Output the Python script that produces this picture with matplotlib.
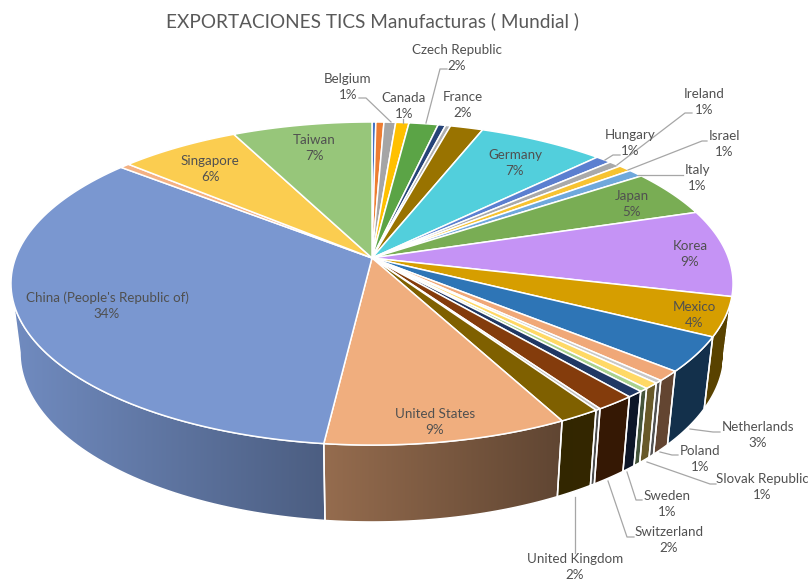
import numpy as np
from matplotlib import pyplot as plt
from matplotlib.colors import to_rgb
from matplotlib.patches import Polygon

plt.rcParams["font.family"] = ["Lato", "DejaVu Sans"]

TITLE = "EXPORTACIONES TICS Manufacturas ( Mundial )"

countries = [
    "Australia", "Austria", "Belgium", "Canada", "Czech Republic", "Denmark",
    "Finland", "France", "Germany", "Hungary", "Ireland", "Israel", "Italy",
    "Japan", "Korea", "Mexico", "Netherlands", "Poland", "Portugal",
    "Slovak Republic", "Slovenia", "Sweden", "Switzerland", "Turkey",
    "United Kingdom", "United States", "China (People's Republic of)", "India",
    "Singapore", "Taiwan",
]
shares = [
    0.20, 0.42, 0.61, 0.69, 1.52, 0.39,
    0.26, 1.71, 6.60, 0.85, 0.65, 0.70, 0.80,
    4.70, 8.70, 3.90, 3.49, 1.00, 0.30,
    0.60, 0.35, 0.65, 1.55, 0.20,
    1.60, 9.40, 34.10, 0.50,
    6.30, 7.30,
]
colors = [
    "#4472c4", "#ed7d31", "#a5a5a5", "#ffc000", "#5ba446", "#264478",
    "#b0b0b0", "#997300", "#52cfdc", "#5b7fd0", "#a9a9a9", "#f7c331", "#6fa8dc",
    "#79ad54", "#c593f5", "#d69e00", "#2e75b6", "#f0a878", "#c8c8c8",
    "#ffd966", "#a9d18e", "#203864", "#843c0c", "#bfbfbf",
    "#7f6000", "#f0ae7e", "#7a97d0", "#f4b183",
    "#fbcd50", "#97c67a",
]

# label centre for each labelled country, then the leader line (if any)
label_xy = {
    "Belgium": (348, 87), "Canada": (404, 106), "Czech Republic": (457, 58),
    "France": (463, 105), "Germany": (515, 163), "Hungary": (630, 143),
    "Ireland": (704, 102), "Israel": (724, 144), "Italy": (697, 178),
    "Japan": (632, 204), "Korea": (690, 254), "Mexico": (694, 315),
    "Netherlands": (758, 435), "Poland": (700, 459),
    "Slovak Republic": (762, 487), "Sweden": (667, 504), "Switzerland": (669, 540),
    "United Kingdom": (575, 567), "United States": (435, 422),
    "China (People's Republic of)": (107, 306), "Singapore": (210, 169),
    "Taiwan": (314, 148),
}
leaders = [
    [(359, 98), (366, 98), (391, 122)],
    [(403, 119), (403, 123)],
    [(447, 69), (440, 69), (426, 123)],
    [(620, 155), (613, 155), (605, 160)],
    [(692, 113), (685, 113), (617, 165)],
    [(707, 141), (702, 141), (628, 170)],
    [(683, 175), (638, 175)],
    [(720, 432), (713, 432), (690, 429)],
    [(678, 455), (672, 455), (660, 452)],
    [(716, 484), (710, 484), (647, 462)],
    [(642, 500), (636, 500), (627, 472)],
    [(634, 537), (627, 537), (608, 481)],
    [(575, 553), (575, 497)],
]

# projection of the tilted disc onto the page, in pixels
CX, CY = 372, 258
A, B, K = 356.5, 157.5, 0.158
BOTTOM_A, BOTTOM_B, DEPTH = 0.975 * A, 165, 68
SIDE_FROM, SIDE_TO = np.radians(99), np.radians(261)


def top_ring(t):
    w = 1 + K * np.cos(t)
    return CX + A * np.sin(t) / w, CY - B * np.cos(t) / w


def bottom_ring(t):
    w = 1 + K * np.cos(t)
    return CX + BOTTOM_A * np.sin(t) / w, CY + DEPTH - BOTTOM_B * np.cos(t) / w


def side_shade(x):
    return np.interp(x, [15, 325, 560, 720], [0.92, 0.62, 0.40, 0.42])


fig = plt.figure(figsize=(8.08, 5.84), dpi=100)
ax = fig.add_axes([0, 0, 1, 1])

edges = np.radians(np.cumsum([0] + shares) * 360 / sum(shares))
page_x = np.arange(808)

for start, end, color in zip(edges[:-1], edges[1:], colors):
    # rim of the slice, only on the part of the disc facing the viewer
    lo, hi = max(start, SIDE_FROM), min(end, SIDE_TO)
    if hi > lo:
        t = np.linspace(lo, hi, 60)
        rim = np.vstack([np.column_stack(top_ring(t)),
                         np.column_stack(bottom_ring(t))[::-1]])
        outline = Polygon(rim, closed=True, facecolor="none", edgecolor="white",
                          linewidth=1.1, zorder=2)
        ax.add_patch(outline)
        row = np.outer(side_shade(page_x), to_rgb(color))[None, :, :]
        im = ax.imshow(row, extent=[0, 808, 584, 0], aspect="auto", zorder=1)
        im.set_clip_path(outline)

    # top face
    t = np.linspace(start, end, 80)
    face = np.vstack([[CX, CY], np.column_stack(top_ring(t))])
    ax.add_patch(Polygon(face, closed=True, facecolor=color, edgecolor="white",
                         linewidth=1.1, joinstyle="round", zorder=3))

for pts in leaders:
    xs, ys = zip(*pts)
    ax.plot(xs, ys, color="#a6a6a6", linewidth=0.9, zorder=4)

for name, share in zip(countries, shares):
    if name in label_xy:
        x, y = label_xy[name]
        ax.text(x, y, f"{name}\n{round(share)}%", ha="center", va="center",
                fontsize=9.6, color="#505050", linespacing=1.4, zorder=5)

ax.text(372, 21, TITLE, ha="center", va="center", fontsize=13.65, color="#595959")

ax.set_xlim(0, 808)
ax.set_ylim(584, 0)
ax.axis("off")
fig.savefig("out.png", dpi=100)
